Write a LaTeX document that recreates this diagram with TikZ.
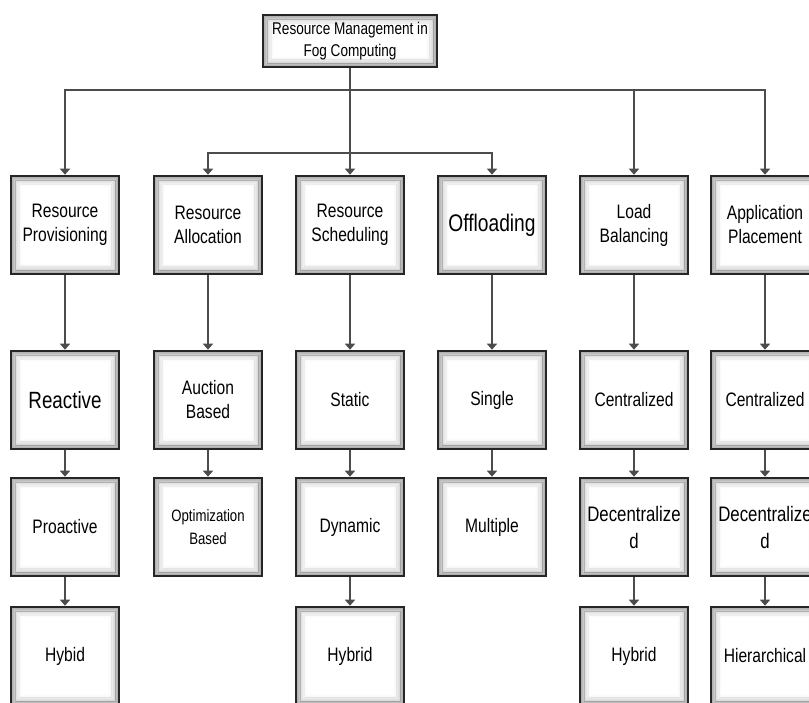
\documentclass[tikz,border=0pt]{standalone}
\usepackage{fontspec}
\newfontfamily\boxfont[FakeStretch=0.8]{Liberation Sans}
\usetikzlibrary{arrows.meta}

\begin{document}
\begin{tikzpicture}[x=1pt, y=-1pt,
        box/.style={draw=black!85, line width=2.6pt, fill=white,
          minimum width=108pt, minimum height=98pt, inner sep=2pt, align=center,
          font=\boxfont\fontsize{19.5}{24}\selectfont,
          path picture={
            \foreach \i [evaluate=\i as \op using (15-\i)*(15-\i)/560] in {1,...,14}
              \draw[black, line width=1pt, opacity=\op]
                ([shift={(0.8*\i pt,-0.8*\i pt)}]path picture bounding box.north west) rectangle
                ([shift={(-0.8*\i pt,0.8*\i pt)}]path picture bounding box.south east);
          }},
        link/.style={draw=black!70, line width=1.8pt, -{Triangle[width=10pt,length=6pt]}},
        ]
        \useasboundingbox (0,0) rectangle (809,702);
        \fill[white] (0,0) rectangle (809,702);
        \clip (0,0) rectangle (809,702);

        \node[box, minimum width=174pt, minimum height=52pt,
          font=\boxfont\fontsize{17}{22}\selectfont] (rmfog) at (350,41) {Resource Management in\\Fog Computing};

        % first row
        \node[box] (prov)  at (65,225)  {Resource\\Provisioning};
        \node[box] (alloc) at (208,225) {Resource\\Allocation};
        \node[box] (sched) at (350,225) {Resource\\Scheduling};
        \node[box, font=\boxfont\fontsize{24}{28}\selectfont] (offl) at (492,225) {Offloading};
        \node[box] (lb)    at (634,225) {Load\\Balancing};
        \node[box] (ap)    at (765,225) {Application\\Placement};

        % second row
        \node[box, font=\boxfont\fontsize{23.5}{28}\selectfont] (react) at (65,400) {Reactive};
        \node[box] (auct)   at (208,400) {Auction\\Based};
        \node[box] (stat)   at (350,400) {Static};
        \node[box] (single) at (492,400) {Single};
        \node[box] (cent1)  at (634,400) {Centralized};
        \node[box] (cent2)  at (765,400) {Centralized};

        % third row
        \node[box] (proact) at (65,527)  {Proactive};
        \node[box, font=\boxfont\fontsize{16.5}{23}\selectfont] (optim) at (208,527) {Optimization\\Based};
        \node[box] (dyn)    at (350,527) {Dynamic};
        \node[box] (mult)   at (492,527) {Multiple};
        \node[box, font=\boxfont\fontsize{21}{27}\selectfont] (decent1) at (634,527) {Decentralize\\d};
        \node[box, font=\boxfont\fontsize{21}{27}\selectfont] (decent2) at (765,527) {Decentralize\\d};

        % last row
        \node[box] (hyb1) at (65,656)  {Hybid};
        \node[box] (hyb2) at (350,656) {Hybrid};
        \node[box] (hyb3) at (634,656) {Hybrid};
        \node[box] (hier) at (765,656) {Hierarchical};

        \coordinate (bus1) at (350,90);
        \coordinate (bus2) at (350,153);

        \draw[link] (bus1) -| (prov.north);
        \draw[link] (bus1) -| (lb.north);
        \draw[link] (bus1) -| (ap.north);
        \draw[link] (rmfog.south) -- (bus2) -| (alloc.north);
        \draw[link] (bus2) -- (sched.north);
        \draw[link] (bus2) -| (offl.north);

        \foreach \a/\b in {prov/react, react/proact, proact/hyb1, alloc/auct, auct/optim,
            sched/stat, stat/dyn, dyn/hyb2, offl/single, single/mult,
            lb/cent1, cent1/decent1, decent1/hyb3, ap/cent2, cent2/decent2, decent2/hier}
          \draw[link] (\a) -- (\b);
    \end{tikzpicture}
\end{document}
